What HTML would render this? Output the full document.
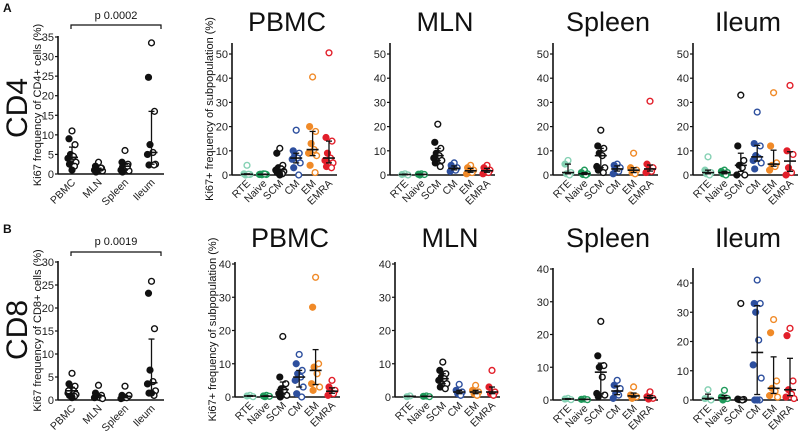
<!DOCTYPE html>
<html><head><meta charset="utf-8">
<style>
html,body{margin:0;padding:0;background:#fff;}
svg{display:block;font-family:"Liberation Sans",Arial,sans-serif;}
</style></head>
<body>
<svg id="fig" width="800" height="440" viewBox="0 0 800 440" xmlns="http://www.w3.org/2000/svg"></svg>
<script>
// ---- data ----
const tissues = ["PBMC","MLN","Spleen","Ileum"];
const subsets = ["RTE","Naive","SCM","CM","EM","EMRA"];
const subsetColors = ["#86d1b4","#1f9a5b","#111111","#2d4f9e","#f08a28","#e21f2a"];

const cd4Total = [[11,9,7.5,5,4.5,4,3,2.5,2,1],[3,2,1.5,1.2,1,1,0.8,0.5,1.5],[6,3,2.5,2,1.5,1,0.8,0.5,2],[33.5,24.7,16,7.5,5.5,5,2.5,2.3,2.3]];
const cd8Total = [[5.8,3.5,3,2.5,2,1.5,1.2,1,0.8,0.5,2],[3.2,1.5,1,0.8,0.5,0.5,0.3,1],[3,1,0.8,0.5,0.5,0.3,1],[25.8,23.2,15.5,6.5,4,3.5,2,1.5,1,1.5]];

const cd4PBMC = [[4,0.5,0.2,0,0.3],[0.5,0.3,0.2,0.1,0.4,0.2],[11,9,4,3,2.5,2,1.5,1,0.5,0],[18.5,10,9,8,7,6.5,5,3,0],[40.5,20,18,13,10.5,9,8,4,1],[50.5,15.5,14,9,7,6,5,3.5,3]];
const cd4MLN = [[0.5,0.2,0],[0.5,0.3,0.2,0],[21,13.5,11,9,8,7,6,5,3.5],[5,4,3,2.5,2,1.5],[4,3,2,1.5,1,0.5],[4,3,2,1.5,1,0.5]];
const cd4Spleen = [[6,4.5,1,0.5,0],[2,1,0.5,0.2,0],[18.5,12,11,9,8,3.5,3,2,1],[4.5,4,3,2,1.5,0.5],[9,3,2,1,0.5],[30.5,4.5,3,2,1.5,1]];
const cd4Ileum = [[7.5,2,1,0.5,0],[2,1.5,1,0.5,0],[33,12,6,4,3,0,0],[26,13,12,8,7,6,5,2.5],[34,12,5,4,3.5,2],[37,10,8.5,3,1,0]];

const cd8PBMC = [[0.5,0.3,0.1],[0.5,0.3,0.2,0.1],[18.2,6,4,2.5,2,1,0.5,0],[12.8,10,8,7,6,5,3,1,0],[36,27,10,9,7,4,3,2],[5,3,2,1.5,1,0.5]];
const cd8MLN = [[0.3,0.1],[0.3,0.2,0.1],[10.5,8,7,6,5.5,5,4,3,2.5],[3.8,2,1.5,1,0.5],[3.5,2,1.5,1,0.5],[8,3,1.5,1,0.5]];
const cd8Spleen = [[0.5,0.3,0.1],[0.3,0.2,0.1],[24,13.5,10.5,10,7,2,1.5,1],[6,4.5,3.5,2,1.5,0.5],[4,1.5,1,0.5],[2.5,1,0.5,0.3]];
const cd8Ileum = [[3.5,0.5,0],[3.3,1,0.5,0],[33,0.3,0.2,0.1,0],[41,33,33,30,20.5,12,7.5,0,0,0],[27.5,23,6.5,4,3,1.5,1],[24.5,22,6.5,3.5,2,1,0.5]];

const ticks35 = [0,5,10,15,20,25,30,35];
const ticks30 = [0,5,10,15,20,25,30];
const ticks50 = [0,10,20,30,40,50];
const ticks40 = [0,10,20,30,40];

// ---- drawing ----
const NS="http://www.w3.org/2000/svg";
const svg=document.getElementById('fig');
function mk(tag,attrs,parent){const e=document.createElementNS(NS,tag);for(const k in attrs)e.setAttribute(k,attrs[k]);(parent||svg).appendChild(e);return e;}
function txt(s,attrs,parent){const e=mk('text',attrs,parent);e.textContent=s;return e;}
function quant(a,q){const s=[...a].sort((x,y)=>x-y);const p=(s.length-1)*q;const l=Math.floor(p),h=Math.ceil(p);return s[l]+(s[h]-s[l])*(p-l);}
const jit=[0,-3,3,-1.5,1.5,-4,4,-2.5,2.5,0,-3.5,3.5];

function panel(opt){
  const g=mk('g',{});
  
  
  const y=v=>opt.y0-(v/opt.tickMax)*(opt.y0-opt.yT);
  const x=i=>opt.ax+opt.off+i*opt.step;
  const ya=mk('line',{x1:opt.ax,x2:opt.ax,y1:opt.y0,y2:opt.yTop,stroke:'#111','stroke-width':1.6},g);
  
  
  const xa=mk('line',{x1:opt.ax,x2:opt.ax+opt.w,y1:opt.y0,y2:opt.y0,stroke:'#111','stroke-width':1.6},g);
  
  
  opt.ticks.forEach(t=>{
    mk('line',{x1:opt.ax-3,x2:opt.ax,y1:y(t),y2:y(t),stroke:'#111','stroke-width':1.2},g);
    const tl=txt(String(t),{x:opt.ax-4,y:y(t)+4,'text-anchor':'end','font-size':11,fill:'#222'},g);
    
    
  });
  opt.cats.forEach((c,i)=>{
    const cx=x(i);
    const lab=txt(c,{x:0,y:0,'text-anchor':'end','font-size':10.5,fill:'#222',transform:`translate(${cx+4},${opt.y0+9}) rotate(-45)`},g);
    
    
    const vals=opt.data[i];const col=opt.colors?opt.colors[i]:'#111';
    vals.forEach((v,k)=>{
      const filled=k%2===1;
      const p=mk('circle',{cx:cx+jit[k%jit.length],cy:y(v),r:2.9,fill:filled?col:'#fff',stroke:col,'stroke-width':1.4},g);
      
      
    });
    const med=quant(vals,0.5),q1=quant(vals,0.25),q3=quant(vals,0.75);
    const eb=mk('g',{stroke:'#111','stroke-width':1.3},g);
    
    
    mk('line',{x1:cx,x2:cx,y1:y(q1),y2:y(q3)},eb);
    mk('line',{x1:cx-3,x2:cx+3,y1:y(q1),y2:y(q1)},eb);
    mk('line',{x1:cx-3,x2:cx+3,y1:y(q3),y2:y(q3)},eb);
    mk('line',{x1:cx-6,x2:cx+6,y1:y(med),y2:y(med),'stroke-width':1.6},eb);
  });
  if(opt.title){const t=txt(opt.title,{x:opt.ax+55,y:opt.titleY,'text-anchor':'middle','font-size':27,fill:'#111'},g);
    }
  if(opt.ylab){const t=txt(opt.ylab,{x:0,y:0,'text-anchor':'middle','font-size':11,fill:'#111',transform:`translate(${opt.ylabX},${(opt.y0+opt.yTop)/2}) rotate(-90)`},g);
    }
}

// Row labels
[['A',3,12],['B',3,233]].forEach(([s,xx,yy])=>{const t=txt(s,{x:xx,y:yy,'font-size':12,'font-weight':'bold',fill:'#111'});});
[['CD4',108],['CD8',330]].forEach(([s,yy])=>{const t=txt(s,{x:0,y:0,'text-anchor':'middle','font-size':30,fill:'#111',transform:`translate(27,${yy}) rotate(-90)`});});

// left panels
panel({name:'cd4-total-panel',ax:58,w:106,off:14,step:26.5,y0:174,yT:37,tickMax:35,yTop:36,ticks:ticks35,cats:tissues,data:cd4Total,ylab:'Ki67 frequency of CD4+ cells (%)',ylabX:41});
panel({name:'cd8-total-panel',ax:58,w:106,off:14,step:26.5,y0:400,yT:262,tickMax:30,yTop:261,ticks:ticks30,cats:tissues,data:cd8Total,ylab:'Ki67 frequency of CD8+ cells (%)',ylabX:41});

// p brackets
[[25,19,'p 0.0002'],[252,245,'p 0.0019']].forEach(([by,ty,s])=>{
  const b=mk('path',{d:`M71 ${by+4} V${by} H161 V${by+4}`,fill:'none',stroke:'#111','stroke-width':1.2});
  
  const t=txt(s,{x:116,y:ty,'text-anchor':'middle','font-size':11,fill:'#111'});
  
});

// subpopulation panels
const rowA=[[cd4PBMC,232,'PBMC'],[cd4MLN,390,'MLN'],[cd4Spleen,553,'Spleen'],[cd4Ileum,693,'Ileum']];
rowA.forEach(([d,ax,t],i)=>panel({name:'cd4-'+t.toLowerCase()+'-panel',ax:ax,w:105,off:15,step:16.4,y0:175,yT:54,tickMax:50,yTop:43,ticks:ticks50,cats:subsets,colors:subsetColors,data:d,title:t,titleY:31,ylab:i===0?'Ki67+ frequency of subpopulation (%)':null,ylabX:213}));
const rowB=[[cd8PBMC,235,'PBMC',397,264,40,262,ticks40],[cd8MLN,395,'MLN',397,264,40,262,ticks40],[cd8Spleen,553,'Spleen',400,269,40,268,ticks40],[cd8Ileum,693,'Ileum',400,283,40,268,ticks40]];
rowB.forEach(([d,ax,t,y0,yT,tm,yTop,tk],i)=>panel({name:'cd8-'+t.toLowerCase()+'-panel',ax:ax,w:105,off:15,step:16.4,y0:y0,yT:yT,tickMax:tm,yTop:yTop,ticks:tk,cats:subsets,colors:subsetColors,data:d,title:t,titleY:247,ylab:i===0?'Ki67+ frequency of subpopulation (%)':null,ylabX:216}));
</script>
</body></html>
